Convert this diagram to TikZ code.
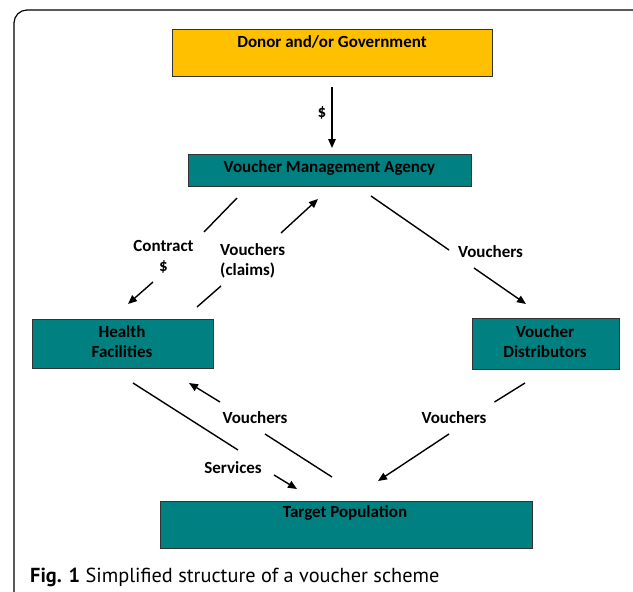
\documentclass[tikz,border=0pt]{standalone}
\usepackage{fontspec}
\setmainfont{Carlito}
\newfontfamily\capfont{PT Sans}
\usetikzlibrary{arrows.meta}
\definecolor{teal1}{HTML}{008080}
\definecolor{gold1}{HTML}{FFC000}
\tikzset{
  box/.style={draw=black!80, line width=0.8pt, fill=teal1, anchor=north west, inner sep=0pt},
  ybox/.style={box, fill=gold1},
  lbl/.style={font=\bfseries\fontsize{17}{20}\selectfont, inner sep=0pt},
  seg/.style={line width=1.4pt},
  arr/.style={line width=1.4pt, -{Triangle[length=9pt,width=7.5pt]}},
}
\begin{document}
\begin{tikzpicture}[x=1pt,y=-1pt]
\useasboundingbox (0,0) rectangle (633,592);
\clip (0,0) rectangle (633,592);
% frame
\draw[line width=1.2pt, rounded corners=13pt] (14,620) -- (14,10) -- (660,10) -- (660,620);
% boxes
\node[ybox, minimum width=320, minimum height=47] (donor) at (172,29) {};
\node[lbl] (donort) at (332,42) {Donor and/or Government};
\node[box, minimum width=283, minimum height=32] (vma) at (188,154) {};
\node[lbl] (vmat) at (329.5,168) {Voucher Management Agency};
\node[box, minimum width=181, minimum height=49] (hf) at (32,319) {};
\node[lbl, align=center] (hft) at (122,342) {Health\\Facilities};
\node[box, minimum width=147, minimum height=51] (vd) at (471.5,318) {};
\node[lbl, align=center] (vdt) at (545,342) {Voucher\\Distributors};
\node[box, minimum width=372, minimum height=47] (tp) at (159.5,501) {};
\node[lbl] (tpt) at (345,513) {Target Population};
% connector coordinates
\coordinate (d1) at (332,87); \coordinate (d2) at (332,148);
\coordinate (c1a) at (237,198); \coordinate (c1b) at (204,232);
\coordinate (c1c) at (153,282); \coordinate (c1d) at (128,304);
\coordinate (c2a) at (197,307); \coordinate (c2b) at (221,286);
\coordinate (c2c) at (281,233); \coordinate (c2d) at (318,199);
\coordinate (c3a) at (371,196); \coordinate (c3b) at (449,250);
\coordinate (c3c) at (474,268); \coordinate (c3d) at (526,304);
\coordinate (c4a) at (133,383); \coordinate (c4b) at (238,450);
\coordinate (c4c) at (274,475); \coordinate (c4d) at (297,489);
\coordinate (c5a) at (332,477); \coordinate (c5b) at (265,434);
\coordinate (c5c) at (220,402); \coordinate (c5d) at (189,383);
\coordinate (c6a) at (525,383); \coordinate (c6b) at (494.5,402);
\coordinate (c6c) at (449,434); \coordinate (c6d) at (378,481);
% connectors
\draw[arr] (d1) -- (d2);
\draw[seg] (c1a) -- (c1b); \draw[arr] (c1c) -- (c1d);
\draw[seg] (c2a) -- (c2b); \draw[arr] (c2c) -- (c2d);
\draw[seg] (c3a) -- (c3b); \draw[arr] (c3c) -- (c3d);
\draw[seg] (c4a) -- (c4b); \draw[arr] (c4c) -- (c4d);
\draw[seg] (c5a) -- (c5b); \draw[arr] (c5c) -- (c5d);
\draw[seg] (c6a) -- (c6b); \draw[arr] (c6c) -- (c6d);
% labels
\node[lbl] (l0) at (322,113) {\$};
\node[lbl] (l1) at (163.5,246) {Contract};
\node[lbl] (l1b) at (163.5,267) {\$};
\node[lbl, anchor=west] (l2) at (220,250) {Vouchers};
\node[lbl, anchor=west] (l2b) at (220,270) {(claims)};
\node[lbl] (l3) at (490.5,252) {Vouchers};
\node[lbl] (l4) at (233,468) {Services};
\node[lbl] (l5) at (255,418) {Vouchers};
\node[lbl] (l6) at (454,418) {Vouchers};
% caption
\node[anchor=west, inner sep=0pt, font=\capfont\fontsize{20.3}{24}\selectfont] (cap) at (30,577) {\textbf{Fig. 1} Simplified structure of a voucher scheme};
\end{tikzpicture}
\end{document}
